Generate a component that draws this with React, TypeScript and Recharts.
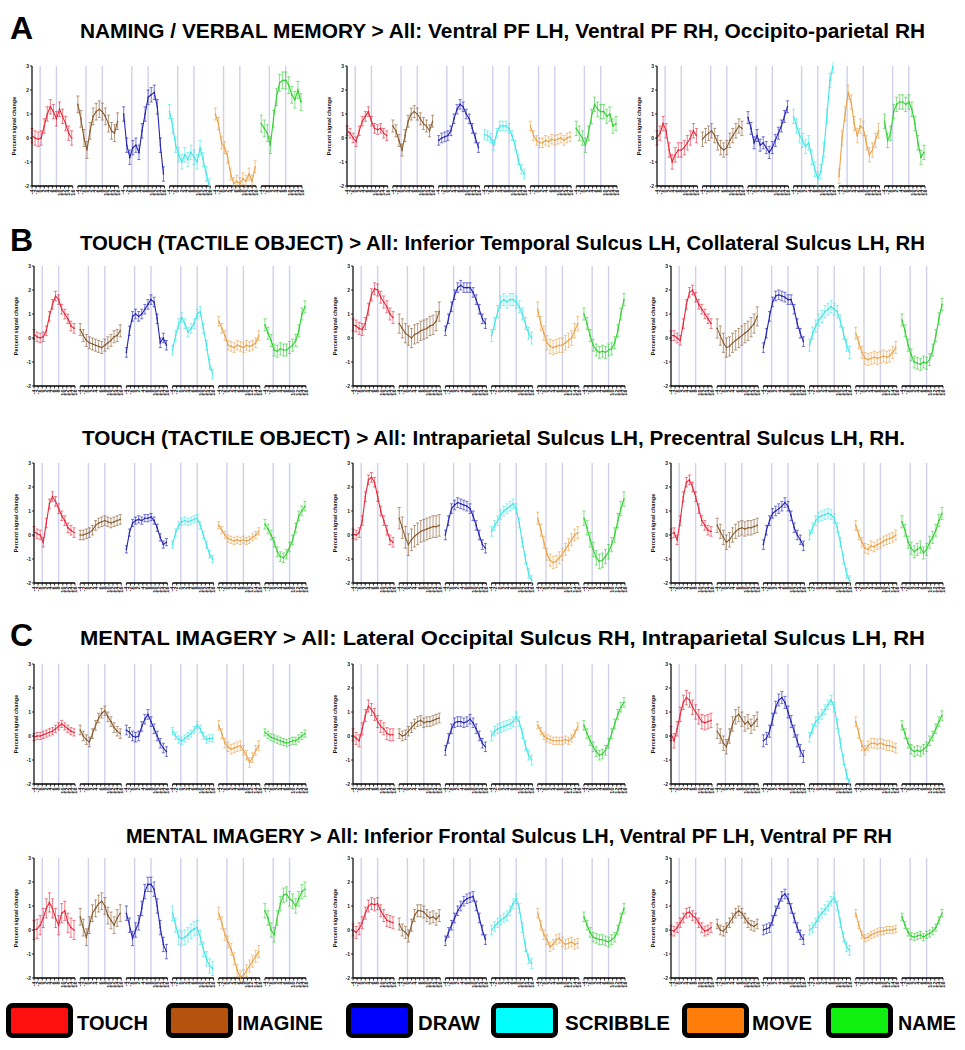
import React from "react";
import { ComposedChart, Line, ErrorBar, XAxis, YAxis, ReferenceLine } from "recharts";

// conditions, colours
const CONDITIONS = ["TOUCH", "IMAGINE", "DRAW", "SCRIBBLE", "MOVE", "NAME"];
const LINE_COLORS = ["#e8283a", "#8a5a2e", "#2424b4", "#3fe6e6", "#e9a24a", "#34d034"];
const LEGEND_COLORS = ["#ff1010", "#b4520e", "#0000ff", "#00ffff", "#ff7d0a", "#10f010"];

// time (s) of each sample inside a condition block
const TIMES = [-4, -2.5, -1, 0.5, 2, 3.5, 5, 6.5, 8, 9.5, 11, 12.5, 14, 15.5];
const SEG_TICKS = [-4, -2, 0, 2, 4, 6, 8, 10, 12, 14, 16];
const ONSETS = [0, 8];
const Y_TICKS = [-2, -1, 0, 1, 2, 3];

// A: NAMING / VERBAL MEMORY
const A1 = [
  [0.1, 0.0, -0.05, 0.0, 0.5, 1.0, 1.3, 1.1, 0.8, 1.2, 0.9, 0.6, 0.2, 0.0],
  [1.4, 0.8, 0.0, -0.5, 0.3, 0.9, 1.1, 1.2, 1.1, 0.9, 0.6, 0.3, 0.2, 0.7],
  [1.0, -0.3, -0.8, -0.4, -0.3, -0.6, 0.3, 1.0, 1.7, 1.8, 1.9, 1.3, -0.3, -1.5],
  [1.1, 0.5, -0.3, -0.7, -1.0, -0.7, -0.9, -0.6, -0.8, -1.0, -0.4, -0.9, -1.5, -2.0],
  [1.0, 0.6, -0.2, -0.4, -0.8, -1.5, -1.9, -1.8, -1.9, -1.7, -1.8, -1.5, -1.8, -1.2],
  [0.6, 0.4, 0.2, -0.3, 0.8, 1.7, 2.3, 2.4, 2.4, 2.2, 1.8, 1.6, 2.0, 1.5],
];
const A1_ERR = [0.3, 0.35, 0.3, 0.3, 0.25, 0.35];
const A2 = [
  [0.3, 0.2, 0.0, -0.15, 0.3, 0.7, 0.9, 1.1, 0.7, 0.4, 0.35, 0.4, 0.2, 0.1],
  [0.5, 0.3, -0.1, -0.5, 0.1, 0.7, 1.0, 1.1, 1.0, 0.8, 0.6, 0.5, 0.3, 0.7],
  [-0.1, 0.0, 0.05, 0.1, 0.3, 0.8, 1.2, 1.4, 1.3, 1.0, 0.8, 0.4, 0.0, -0.4],
  [0.15, 0.1, 0.0, -0.3, 0.2, 0.5, 0.5, 0.5, 0.4, 0.1, -0.3, -0.9, -1.3, -1.5],
  [0.5, 0.1, -0.1, -0.2, -0.2, -0.1, -0.15, -0.05, -0.1, -0.05, 0.0, -0.1, 0.0, 0.05],
  [0.4, 0.2, 0.0, -0.3, 0.2, 0.9, 1.4, 1.2, 1.1, 1.1, 0.9, 1.0, 0.5, 0.6],
];
const A2_ERR = [0.2, 0.25, 0.2, 0.2, 0.2, 0.3];
const A3 = [
  [0.0, 0.2, 0.6, 0.3, -0.5, -1.0, -0.7, -0.5, -0.5, -0.4, -0.2, 0.0, 0.3, 0.1],
  [-0.05, 0.1, 0.2, 0.3, 0.1, -0.2, -0.4, -0.5, -0.4, -0.1, 0.1, 0.3, 0.5, 0.4],
  [0.85, 0.4, -0.2, 0.1, -0.3, -0.2, -0.4, -0.6, -0.4, -0.1, 0.2, 0.5, 0.9, 1.3],
  [0.9, 0.5, 0.1, -0.1, -0.35, -0.2, -0.8, -1.3, -1.7, -1.4, -0.5, 0.9, 2.4, 3.0],
  [-1.6, 0.0, 1.0, 1.9, 1.5, 0.6, 0.1, 0.5, 0.4, -0.2, -0.7, -0.5, -0.1, 0.3],
  [0.7, -0.1, 0.2, 1.1, 1.4, 1.5, 1.5, 1.4, 1.5, 1.2, 0.6, -0.2, -0.8, -0.6],
];
const A3_ERR = [0.3, 0.3, 0.25, 0.3, 0.3, 0.3];

// B: TOUCH (TACTILE OBJECT), temporal / collateral
const B1 = [
  [0.15, 0.05, 0.0, 0.05, 0.3, 0.9, 1.4, 1.75, 1.6, 1.2, 1.0, 0.8, 0.5, 0.4],
  [0.35, 0.1, -0.1, -0.2, -0.25, -0.3, -0.35, -0.4, -0.3, -0.2, -0.1, 0.05, 0.1, 0.3],
  [-0.6, 0.3, 0.9, 1.0, 0.9, 1.0, 1.2, 1.4, 1.6, 1.5, 0.8, -0.2, 0.0, -0.3],
  [-0.5, 0.1, 0.6, 0.85, 0.6, 0.25, 0.4, 0.6, 1.0, 1.1, 0.4, -0.3, -1.1, -1.5],
  [0.7, 0.4, 0.1, -0.3, -0.35, -0.4, -0.3, -0.35, -0.4, -0.3, -0.35, -0.3, -0.2, 0.1],
  [0.55, 0.2, -0.1, -0.5, -0.55, -0.45, -0.5, -0.5, -0.4, -0.3, -0.1, 0.3, 1.0, 1.3],
];
const B1_ERR = [0.2, 0.25, 0.2, 0.2, 0.2, 0.25];
const B2 = [
  [0.55, 0.5, 0.4, 0.35, 0.6, 1.2, 1.8, 2.05, 2.0, 1.7, 1.5, 1.3, 1.0, 0.85],
  [0.6, 0.4, 0.2, 0.1, 0.0, 0.15, 0.2, 0.3, 0.35, 0.4, 0.5, 0.55, 0.7, 1.1],
  [0.3, 0.8, 1.3, 1.8, 2.1, 2.2, 2.1, 2.1, 2.1, 1.9, 1.6, 1.2, 0.8, 0.6],
  [0.1, 0.6, 1.1, 1.5, 1.6, 1.5, 1.6, 1.6, 1.5, 1.3, 1.0, 0.6, 0.2, 0.0],
  [1.2, 0.6, 0.2, -0.2, -0.35, -0.4, -0.35, -0.3, -0.3, -0.2, -0.1, 0.0, 0.3, 0.6],
  [1.0, 0.6, 0.1, -0.3, -0.5, -0.6, -0.55, -0.6, -0.5, -0.45, -0.2, 0.3, 1.0, 1.6],
];
const B2_ERR = [0.25, 0.4, 0.2, 0.25, 0.3, 0.25];
const B3 = [
  [0.1, 0.1, 0.0, -0.1, 0.6, 1.4, 1.9, 2.0, 1.7, 1.4, 1.2, 1.0, 0.8, 0.6],
  [0.4, 0.1, -0.2, -0.4, -0.35, -0.2, -0.1, 0.0, 0.1, 0.2, 0.3, 0.45, 0.6, 0.9],
  [-0.4, 0.2, 0.9, 1.5, 1.75, 1.8, 1.75, 1.7, 1.6, 1.6, 1.2, 0.6, 0.2, -0.15],
  [-0.3, 0.2, 0.5, 0.75, 0.9, 1.1, 1.2, 1.3, 1.2, 1.1, 0.7, 0.2, -0.3, -0.6],
  [0.2, -0.2, -0.6, -0.85, -0.9, -0.85, -0.8, -0.85, -0.8, -0.75, -0.8, -0.75, -0.6, -0.4],
  [0.75, 0.3, -0.3, -0.7, -1.0, -1.05, -1.1, -1.0, -1.05, -0.9, -0.5, 0.1, 0.8, 1.4],
];
const B3_ERR = [0.2, 0.4, 0.2, 0.25, 0.25, 0.25];

// B: TOUCH (TACTILE OBJECT), parietal / precentral
const B4 = [
  [0.15, 0.05, 0.0, -0.3, 0.5, 1.3, 1.6, 1.4, 1.1, 0.8, 0.6, 0.3, 0.2, 0.1],
  [0.0, 0.0, 0.05, 0.1, 0.2, 0.4, 0.5, 0.55, 0.6, 0.55, 0.5, 0.55, 0.6, 0.65],
  [-0.6, 0.1, 0.5, 0.6, 0.65, 0.6, 0.7, 0.7, 0.75, 0.6, 0.3, -0.1, -0.4, -0.3],
  [-0.4, 0.1, 0.4, 0.55, 0.6, 0.55, 0.6, 0.65, 0.7, 0.4, 0.0, -0.4, -0.8, -1.0],
  [0.4, 0.2, 0.0, -0.15, -0.2, -0.25, -0.2, -0.25, -0.2, -0.25, -0.2, -0.1, 0.0, 0.15],
  [0.45, 0.25, 0.0, -0.3, -0.7, -0.9, -0.95, -0.8, -0.5, -0.2, 0.3, 0.8, 1.0, 1.2],
];
const B4_ERR = [0.2, 0.2, 0.15, 0.15, 0.15, 0.2];
const B5 = [
  [0.05, 0.0, 0.1, 0.6, 1.6, 2.3, 2.4, 2.2, 1.6, 1.0, 0.6, 0.2, -0.2, -0.3],
  [0.7, 0.3, -0.1, -0.4, -0.2, -0.05, 0.05, 0.15, 0.2, 0.25, 0.3, 0.35, 0.35, 0.4],
  [0.0, 0.6, 1.1, 1.25, 1.35, 1.3, 1.25, 1.2, 1.1, 0.8, 0.4, 0.0, -0.4, -0.55],
  [0.15, 0.4, 0.6, 0.85, 1.0, 1.1, 1.2, 1.3, 1.1, 0.5, -0.3, -1.0, -1.6, -1.9],
  [0.7, 0.2, -0.3, -0.8, -1.05, -1.15, -1.1, -0.95, -0.8, -0.6, -0.4, -0.2, 0.0, 0.1],
  [0.7, 0.3, -0.2, -0.6, -0.95, -1.1, -1.05, -0.9, -0.7, -0.4, 0.0, 0.6, 1.1, 1.5],
];
const B5_ERR = [0.2, 0.45, 0.2, 0.2, 0.25, 0.3];
const B6 = [
  [0.05, 0.1, -0.2, 0.6, 1.6, 2.2, 2.3, 2.0, 1.6, 1.1, 0.6, 0.4, 0.2, 0.15],
  [0.4, 0.15, -0.1, -0.3, -0.2, 0.0, 0.15, 0.25, 0.3, 0.25, 0.3, 0.3, 0.35, 0.4],
  [-0.4, 0.2, 0.6, 0.9, 1.0, 1.1, 1.2, 1.35, 1.2, 0.8, 0.3, 0.0, -0.2, -0.45],
  [0.0, 0.3, 0.6, 0.75, 0.8, 0.85, 0.9, 0.85, 0.7, 0.3, -0.3, -1.0, -1.6, -1.9],
  [0.4, 0.0, -0.3, -0.55, -0.6, -0.45, -0.5, -0.4, -0.35, -0.25, -0.2, -0.15, -0.1, 0.0],
  [0.55, 0.2, -0.3, -0.55, -0.7, -0.6, -0.5, -0.75, -0.6, -0.3, -0.1, 0.2, 0.6, 0.9],
];
const B6_ERR = [0.2, 0.3, 0.2, 0.2, 0.2, 0.25];

// C: MENTAL IMAGERY, occipital / parietal
const C1 = [
  [-0.05, 0.0, 0.0, 0.05, 0.1, 0.15, 0.2, 0.3, 0.4, 0.5, 0.4, 0.3, 0.2, 0.15],
  [0.25, 0.0, -0.15, -0.25, 0.1, 0.45, 0.75, 0.95, 1.05, 0.8, 0.6, 0.35, 0.2, 0.1],
  [0.25, 0.15, 0.0, -0.05, 0.0, 0.4, 0.7, 0.9, 0.6, 0.3, 0.0, -0.3, -0.5, -0.65],
  [0.2, 0.0, -0.15, -0.2, -0.1, 0.0, 0.1, 0.25, 0.45, 0.3, 0.0, -0.15, -0.1, -0.1],
  [0.45, 0.1, -0.3, -0.45, -0.55, -0.5, -0.45, -0.4, -0.6, -0.8, -1.1, -0.9, -0.6, -0.4],
  [0.15, 0.05, -0.05, -0.1, -0.15, -0.2, -0.25, -0.3, -0.25, -0.2, -0.2, -0.1, 0.0, 0.1],
];
const C1_ERR = [0.15, 0.2, 0.2, 0.15, 0.2, 0.15];
const C2 = [
  [0.05, -0.1, -0.2, 0.3, 0.85, 1.25, 1.1, 0.9, 0.6, 0.4, 0.3, 0.1, 0.05, 0.05],
  [0.1, 0.0, 0.05, 0.2, 0.35, 0.5, 0.6, 0.65, 0.55, 0.6, 0.6, 0.65, 0.7, 0.75],
  [-0.6, -0.1, 0.3, 0.55, 0.6, 0.6, 0.55, 0.6, 0.7, 0.55, 0.3, 0.0, -0.3, -0.45],
  [0.0, 0.2, 0.3, 0.35, 0.4, 0.45, 0.5, 0.6, 0.8, 0.6, 0.1, -0.4, -0.8, -1.0],
  [0.45, 0.2, 0.0, -0.1, -0.15, -0.2, -0.2, -0.2, -0.2, -0.15, -0.2, -0.1, 0.1, 0.4],
  [0.45, 0.1, -0.2, -0.45, -0.65, -0.8, -0.75, -0.6, -0.3, 0.1, 0.5, 0.9, 1.2, 1.4],
];
const C2_ERR = [0.25, 0.2, 0.2, 0.2, 0.15, 0.2];
const C3 = [
  [0.1, -0.2, 0.3, 0.9, 1.4, 1.6, 1.5, 1.2, 1.0, 0.8, 0.6, 0.55, 0.6, 0.65],
  [0.2, 0.0, -0.3, -0.45, 0.0, 0.5, 0.8, 0.9, 0.7, 0.5, 0.6, 0.4, 0.55, 0.7],
  [-0.2, -0.1, 0.2, 0.7, 1.2, 1.5, 1.6, 1.4, 1.0, 0.6, 0.2, -0.2, -0.6, -0.85],
  [-0.05, 0.3, 0.6, 0.75, 0.9, 1.1, 1.3, 1.5, 1.2, 0.5, -0.3, -1.0, -1.6, -2.0],
  [0.6, 0.1, -0.4, -0.6, -0.4, -0.3, -0.3, -0.35, -0.3, -0.35, -0.4, -0.4, -0.45, -0.5],
  [0.45, 0.1, -0.3, -0.55, -0.65, -0.6, -0.65, -0.55, -0.45, -0.2, 0.0, 0.3, 0.6, 0.85],
];
const C3_ERR = [0.3, 0.3, 0.25, 0.2, 0.2, 0.2];

// C: MENTAL IMAGERY, frontal / ventral PF
const C4 = [
  [0.0, 0.05, 0.2, 0.5, 0.9, 1.15, 0.9, 0.5, 0.2, 0.7, 0.8, 0.3, 0.1, 0.0],
  [0.55, 0.1, -0.3, 0.2, 0.7, 0.9, 1.1, 1.2, 1.0, 0.6, 0.4, 0.2, 0.5, 0.7],
  [0.7, 0.2, -0.35, 0.0, 0.3, 0.9, 1.6, 1.9, 1.9, 1.7, 1.0, 0.1, -0.6, -0.9],
  [0.7, 0.2, -0.3, -0.35, -0.3, -0.2, -0.05, 0.05, 0.1, -0.3, -0.8, -1.2, -1.5, -1.6],
  [0.7, 0.3, -0.2, -0.5, -0.8, -1.2, -1.7, -1.95, -1.9, -1.7, -1.5, -1.3, -1.1, -0.9],
  [0.8, 0.5, 0.0, -0.2, 0.5, 1.1, 1.45, 1.5, 1.3, 1.2, 1.0, 1.3, 1.6, 1.7],
];
const C4_ERR = [0.4, 0.35, 0.3, 0.3, 0.25, 0.3];
const C5 = [
  [0.0, -0.1, 0.05, 0.3, 0.7, 1.0, 1.1, 1.05, 1.1, 0.8, 0.6, 0.4, 0.35, 0.3],
  [0.25, 0.0, -0.1, -0.25, 0.2, 0.6, 0.8, 0.8, 0.75, 0.6, 0.5, 0.55, 0.45, 0.6],
  [-0.45, -0.1, 0.2, 0.5, 0.8, 1.0, 1.2, 1.3, 1.35, 1.4, 1.0, 0.5, 0.0, -0.4],
  [0.0, 0.15, 0.3, 0.4, 0.5, 0.6, 0.8, 1.1, 1.3, 0.9, 0.1, -0.7, -1.2, -1.4],
  [0.7, 0.2, -0.2, -0.4, -0.7, -0.6, -0.4, -0.35, -0.5, -0.6, -0.55, -0.5, -0.6, -0.55],
  [0.55, 0.2, -0.1, -0.3, -0.35, -0.4, -0.4, -0.45, -0.5, -0.4, -0.3, 0.0, 0.5, 0.9],
];
const C5_ERR = [0.25, 0.25, 0.2, 0.2, 0.2, 0.2];
const C6 = [
  [0.0, -0.05, 0.1, 0.3, 0.5, 0.7, 0.75, 0.6, 0.5, 0.3, 0.1, -0.05, 0.0, 0.1],
  [0.25, 0.0, -0.05, 0.1, 0.3, 0.5, 0.7, 0.8, 0.7, 0.5, 0.3, 0.2, 0.15, 0.25],
  [0.0, 0.05, 0.1, 0.4, 0.8, 1.1, 1.4, 1.5, 1.3, 0.9, 0.5, 0.1, -0.2, -0.4],
  [0.0, 0.1, 0.3, 0.55, 0.7, 0.85, 1.0, 1.2, 1.35, 1.0, 0.3, -0.3, -0.7, -0.85],
  [0.7, 0.2, -0.2, -0.35, -0.3, -0.2, -0.15, -0.1, -0.05, -0.05, 0.0, 0.0, 0.0, 0.05],
  [0.55, 0.2, -0.1, -0.25, -0.3, -0.25, -0.2, -0.3, -0.2, -0.15, -0.05, 0.1, 0.4, 0.7],
];
const C6_ERR = [0.2, 0.2, 0.2, 0.2, 0.15, 0.15];

const TITLES = [
  "NAMING / VERBAL MEMORY > All: Ventral PF LH, Ventral PF RH, Occipito-parietal RH",
  "TOUCH (TACTILE OBJECT) > All: Inferior Temporal Sulcus LH, Collateral Sulcus LH, RH",
  "TOUCH (TACTILE OBJECT) > All: Intraparietal Sulcus LH, Precentral Sulcus LH, RH.",
  "MENTAL IMAGERY > All: Lateral Occipital Sulcus RH, Intraparietal Sulcus LH, RH",
  "MENTAL IMAGERY > All: Inferior Frontal Sulcus LH, Ventral PF LH, Ventral PF RH",
];
const LETTERS = ["A", "B", "", "C", ""];

// layout
const SEG_PERIOD = 22.5;
const SEG_LEN = 20;
const X_MAX = 5 * SEG_PERIOD + SEG_LEN;
const xOf = (k: number, t: number) => k * SEG_PERIOD + t + 4;
const X_TICKS = CONDITIONS.flatMap((_, k) => SEG_TICKS.map((t) => xOf(k, t)));

const ROW_TOPS = [66, 266, 463, 664, 858];
const TITLE_BASE = [38, 250, 445, 645, 843];
const TITLE_X = [80, 80, 82, 80, 126];
const TITLE_W = [845, 845, 823, 845, 766];
const COL_X = [[32, 347, 657], [34, 353, 671], [34, 353, 671], [34, 353, 671], [34, 353, 671]];
const PLOT_W = [[270, 270, 268], [272, 272, 272], [272, 272, 272], [272, 272, 272], [272, 272, 272]];

const ROWS = [
  [[A1, A1_ERR], [A2, A2_ERR], [A3, A3_ERR]],
  [[B1, B1_ERR], [B2, B2_ERR], [B3, B3_ERR]],
  [[B4, B4_ERR], [B5, B5_ERR], [B6, B6_ERR]],
  [[C1, C1_ERR], [C2, C2_ERR], [C3, C3_ERR]],
  [[C4, C4_ERR], [C5, C5_ERR], [C6, C6_ERR]],
] as [number[][], number[]][][];

const LEG_BOX_X = [6, 166, 346, 491, 682, 826];
const LEG_TEXT_X = [77, 237, 418, 565, 752, 898];
const LEG_TEXT_W = [71, 86, 62, 105, 60, 58];

const segLabel = (v: number) => {
  const k = Math.floor(v / SEG_PERIOD + 1e-6);
  return String(Math.round(v - k * SEG_PERIOD - 4));
};

const XTick = (props: any) => {
  const { x, y, payload } = props;
  return (
    <text
      x={x + 1.8}
      y={y}
      transform={`rotate(-90 ${x + 1.8} ${y})`}
      textAnchor="end"
      fontSize={5.5}
      fontWeight={700}
      fill="#222"
    >
      {segLabel(payload.value)}
    </text>
  );
};

function Panel({ series, err, left, top, plotW }: { series: number[][]; err: number[]; left: number; top: number; plotW: number }) {
  const width = 24 + plotW + 4;
  return (
    <div style={{ position: "absolute", left: left - 24, top: top - 4 }}>
      <ComposedChart width={width} height={140} margin={{ top: 4, right: 4, left: 2, bottom: 2 }}>
        <XAxis
          type="number"
          dataKey="x"
          domain={[0, X_MAX]}
          ticks={X_TICKS}
          interval={0}
          allowDataOverflow
          axisLine={false}
          tickLine={{ stroke: "#000", strokeWidth: 0.8 }}
          tickSize={2.5}
          tickMargin={1}
          height={14}
          tick={<XTick />}
        />
        <YAxis
          type="number"
          domain={[-2, 3]}
          ticks={Y_TICKS}
          allowDataOverflow
          width={22}
          tickSize={2}
          tickMargin={1}
          tick={{ fontSize: 5, fill: "#222", fontWeight: 700 }}
          axisLine={{ stroke: "#000", strokeWidth: 1.2 }}
          tickLine={{ stroke: "#000", strokeWidth: 0.8 }}
          label={{
            value: "Percent signal change",
            angle: -90,
            position: "insideLeft",
            offset: 4,
            style: { fontSize: 5.5, fontWeight: 700, textAnchor: "middle", fill: "#111" },
          }}
        />
        {CONDITIONS.map((c, k) =>
          ONSETS.map((t) => (
            <ReferenceLine key={`${c}-on-${t}`} x={xOf(k, t)} stroke="#cfd0ec" strokeWidth={1.4} />
          ))
        )}
        {CONDITIONS.map((c, k) => (
          <ReferenceLine
            key={`${c}-axis`}
            segment={[
              { x: xOf(k, -4), y: -2 },
              { x: xOf(k, 16), y: -2 },
            ]}
            ifOverflow="visible"
            stroke="#000"
            strokeWidth={1.3}
          />
        ))}
        {CONDITIONS.map((c, k) => (
          <Line
            key={c}
            data={TIMES.map((t, i) => ({ x: xOf(k, t), y: series[k][i], e: err[k] }))}
            dataKey="y"
            type="linear"
            stroke={LINE_COLORS[k]}
            strokeWidth={1.1}
            dot={{ r: 0.8, fill: LINE_COLORS[k], stroke: "none" }}
            isAnimationActive={false}
          >
            <ErrorBar dataKey="e" direction="y" width={1.6} stroke={LINE_COLORS[k]} strokeWidth={0.6} />
          </Line>
        ))}
      </ComposedChart>
    </div>
  );
}

export default function App() {
  return (
    <div
      style={{
        position: "absolute",
        left: 0,
        top: 0,
        width: 965,
        height: 1050,
        background: "#fff",
        fontFamily: "'Liberation Sans', Arial, sans-serif",
      }}
    >
      <svg width={965} height={1050} style={{ position: "absolute", left: 0, top: 0 }}>
        {TITLES.map((t, r) => (
          <g key={t}>
            {LETTERS[r] && (
              <text x={10} y={TITLE_BASE[r] + 1} fontSize={32} fontWeight={700} fill="#000">
                {LETTERS[r]}
              </text>
            )}
            <text
              x={TITLE_X[r]}
              y={TITLE_BASE[r]}
              fontSize={21}
              fontWeight={700}
              fill="#000"
              textLength={TITLE_W[r]}
              lengthAdjust="spacingAndGlyphs"
              style={{ fontFamily: "'Liberation Sans Narrow', 'Liberation Sans', Arial, sans-serif" }}
            >
              {t}
            </text>
          </g>
        ))}
        {CONDITIONS.map((c, i) => (
          <g key={c}>
            <rect
              x={LEG_BOX_X[i] + 2.5}
              y={1005.5}
              width={62}
              height={30}
              rx={4}
              fill={LEGEND_COLORS[i]}
              stroke="#000"
              strokeWidth={5}
            />
            <text
              x={LEG_TEXT_X[i]}
              y={1030}
              fontSize={21}
              fontWeight={700}
              fill="#000"
              textLength={LEG_TEXT_W[i]}
              lengthAdjust="spacingAndGlyphs"
              style={{ fontFamily: "'Liberation Sans Narrow', 'Liberation Sans', Arial, sans-serif" }}
            >
              {c}
            </text>
          </g>
        ))}
      </svg>
      {ROWS.map((row, r) =>
        row.map(([series, err], c) => (
          <Panel key={`${r}-${c}`} series={series} err={err} left={COL_X[r][c]} top={ROW_TOPS[r]} plotW={PLOT_W[r][c]} />
        ))
      )}
    </div>
  );
}
